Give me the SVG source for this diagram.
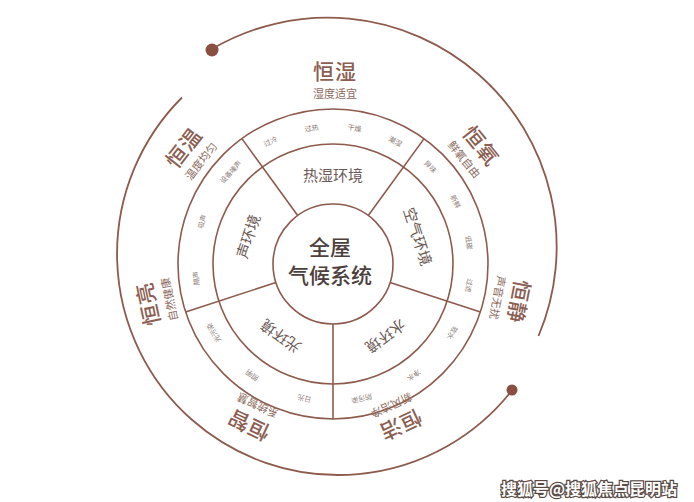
<svg xmlns="http://www.w3.org/2000/svg" width="694" height="502" viewBox="0 0 694 502">
<style>
.ln{fill:none;stroke:#8d5a4c;stroke-width:1.6}
.arc{fill:none;stroke:#8d5a4c;stroke-width:1.8}
.dot{fill:#8a4f40}
text{font-family:"Noto Sans CJK SC","Noto Sans",sans-serif;text-anchor:middle;dominant-baseline:central}
.big{font-size:21px;fill:#8b5e52;font-weight:500;letter-spacing:1px}
.sub{font-size:11px;fill:#8b6a60}
.ring{font-size:15px;fill:#6b5a55}
.sm{font-size:7px;fill:#8a7a75}
.ctr{font-size:21px;fill:#4d403c;font-weight:500}
.wm{font-size:16px;fill:#fff;stroke:#5a4a45;stroke-width:2.5;paint-order:stroke;font-weight:700}
</style>
<rect width="694" height="502" fill="#fff"/>
<g id="connectors">
<path class="arc" d="M211.5,49.3 A229,229 0 0 1 538.5,336"/>
<path class="arc" d="M512.4,389.8 A221,221 0 1 1 182,97.5"/>
<circle class="dot" cx="212" cy="50" r="6.5"/>
<circle class="dot" cx="512" cy="390" r="5.5"/>
<circle class="ln" cx="333" cy="264" r="155"/>
<circle class="ln" cx="333" cy="264" r="120"/>
<line class="ln" x1="297.7" y1="215.5" x2="241.9" y2="138.6"/>
<line class="ln" x1="368.3" y1="215.5" x2="424.1" y2="138.6"/>
<line class="ln" x1="390.1" y1="282.5" x2="480.4" y2="311.9"/>
<line class="ln" x1="333" y1="324" x2="333" y2="419"/>
<line class="ln" x1="275.9" y1="282.5" x2="185.6" y2="311.9"/>
</g>
<g id="center">
<circle class="ln" cx="333" cy="264" r="60"/>
<text class="ctr" x="330" y="246">全屋</text>
<text class="ctr" x="330" y="274">气候系统</text>
</g>
<g id="sector-rs">
<text class="ring" x="333" y="174">热湿环境</text>
<text class="sm" x="333" y="126" transform="rotate(-27 333 264)">过冷</text>
<text class="sm" x="333" y="126" transform="rotate(-9 333 264)">过热</text>
<text class="sm" x="333" y="126" transform="rotate(9 333 264)">干燥</text>
<text class="sm" x="333" y="126" transform="rotate(27 333 264)">潮湿</text>
</g>
<g id="sector-kq" transform="rotate(72 333 264)">
<text class="ring" x="333" y="174">空气环境</text>
<text class="sm" x="333" y="126" transform="rotate(-27 333 264)">异味</text>
<text class="sm" x="333" y="126" transform="rotate(-9 333 264)">新鲜</text>
<text class="sm" x="333" y="126" transform="rotate(9 333 264)">低碳</text>
<text class="sm" x="333" y="126" transform="rotate(27 333 264)">过滤</text>
</g>
<g id="sector-s" transform="rotate(144 333 264)">
<text class="ring" x="333" y="174">水环境</text>
<text class="sm" x="333" y="126" transform="rotate(-24 333 264)">软水</text>
<text class="sm" x="333" y="126" transform="rotate(0 333 264)">净水</text>
<text class="sm" x="333" y="126" transform="rotate(24 333 264)">防污染</text>
</g>
<g id="sector-g" transform="rotate(216 333 264)">
<text class="ring" x="333" y="174">光环境</text>
<text class="sm" x="333" y="126" transform="rotate(-24 333 264)">日光</text>
<text class="sm" x="333" y="126" transform="rotate(0 333 264)">照明</text>
<text class="sm" x="333" y="126" transform="rotate(24 333 264)">光污染</text>
</g>
<g id="sector-sh" transform="rotate(288 333 264)">
<text class="ring" x="333" y="174">声环境</text>
<text class="sm" x="333" y="126" transform="rotate(-24 333 264)">隔声</text>
<text class="sm" x="333" y="126" transform="rotate(0 333 264)">吸声</text>
<text class="sm" x="333" y="126" transform="rotate(24 333 264)">设备噪声</text>
</g>
<g id="hengshi" transform="translate(335 70)"><text class="big" x="0" y="0">恒湿</text><text class="sub" x="0" y="23">湿度适宜</text></g>
<g id="hengyang" transform="translate(482 145) rotate(51)"><text class="big" x="0" y="0">恒氧</text><text class="sub" x="0" y="22">鲜氧自由</text></g>
<g id="hengjing" transform="translate(520 302) rotate(101)"><text class="big" x="0" y="0">恒静</text><text class="sub" x="0" y="22">声音无扰</text></g>
<g id="hengjie" transform="translate(401 426) rotate(155)"><text class="big" x="0" y="0">恒洁</text><text class="sub" x="0" y="22">新风洁净</text></g>
<g id="hengzhi" transform="translate(248 426) rotate(205)"><text class="big" x="0" y="0">恒智</text><text class="sub" x="0" y="22">系统智慧</text></g>
<g id="hengliang" transform="translate(147 304) rotate(258)"><text class="big" x="0" y="0">恒亮</text><text class="sub" x="0" y="22">自然健康</text></g>
<g id="hengwen" transform="translate(183 147) rotate(-52)"><text class="big" x="0" y="0">恒温</text><text class="sub" x="0" y="22">温度均匀</text></g>
<text class="wm" x="589" y="488">搜狐号@搜狐焦点昆明站</text>
</svg>
